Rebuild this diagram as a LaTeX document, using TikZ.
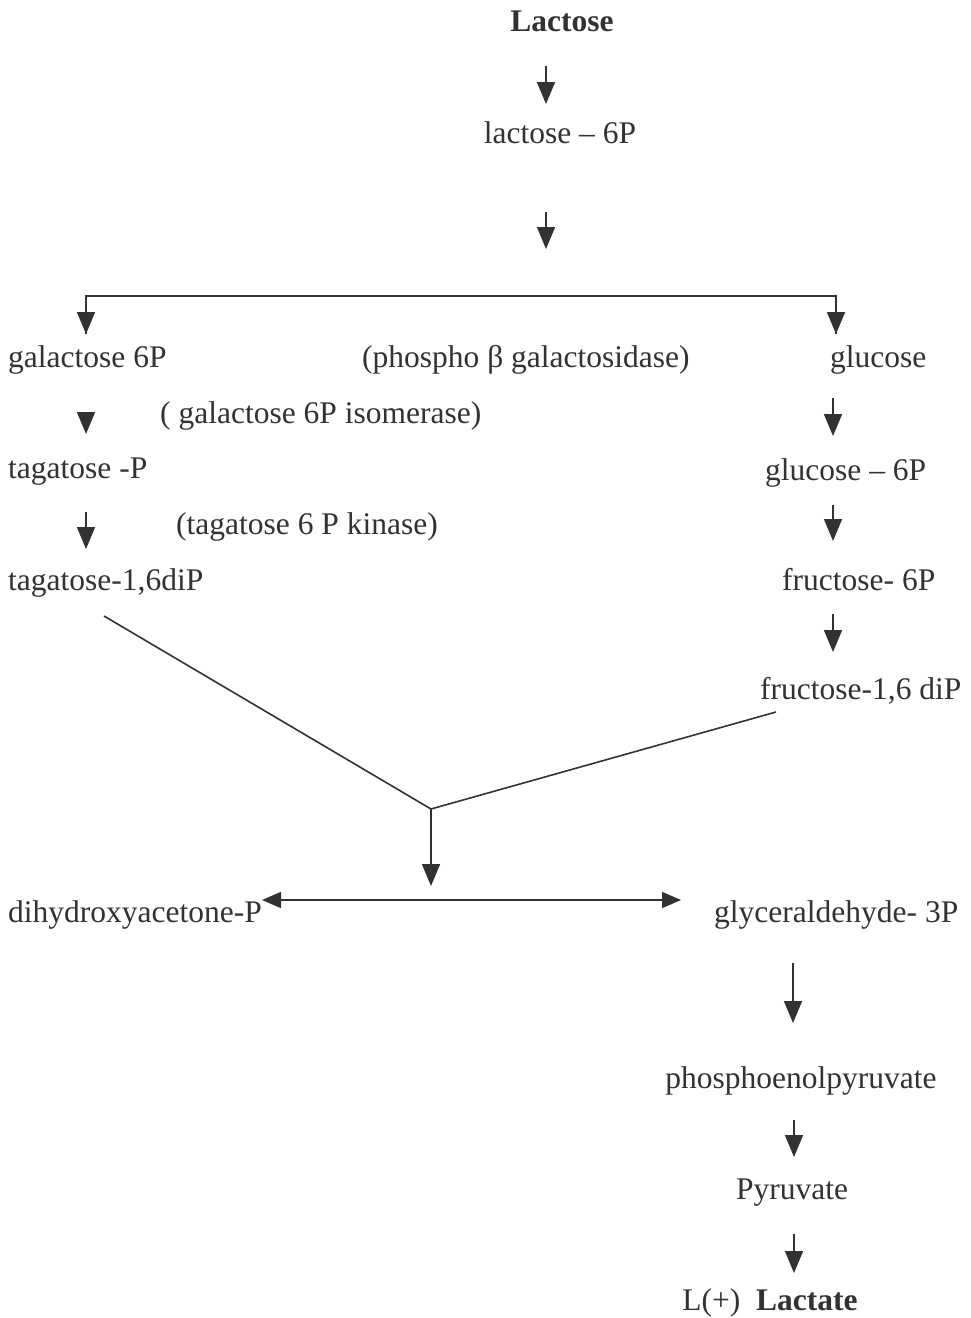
\documentclass[tikz,border=0pt]{standalone}
\usepackage{fontspec}
\setmainfont{Liberation Serif}
\usetikzlibrary{arrows.meta}
\definecolor{ink}{HTML}{323232}
\begin{document}
\begin{tikzpicture}[x=1pt,y=-1pt,
  lbl/.style={inner sep=0pt,text=ink,font=\fontsize{31.5}{34}\selectfont},
  arr/.style={draw=ink,line width=1.7pt,-{Triangle[width=18pt,length=22pt]}},
  twoway/.style={draw=ink,line width=1.7pt,{Triangle[width=16pt,length=19pt]}-{Triangle[width=16pt,length=19pt]}},
  plain/.style={draw=ink,line width=1.6pt}]
\useasboundingbox[fill=white] (0,0) rectangle (970,1318);

% metabolites
\node[lbl,anchor=base] (lac) at (562,31) {\bfseries Lactose};
\node[lbl,anchor=base] (lac6p) at (560,143) {lactose -- 6P};
\node[lbl,anchor=base west] (gal6p) at (8,367) {galactose 6P};
\node[lbl,anchor=base west] (glc) at (830,367) {glucose};
\node[lbl,anchor=base west] (tagp) at (8,478) {tagatose -P};
\node[lbl,anchor=base west] (glc6p) at (765,480) {glucose -- 6P};
\node[lbl,anchor=base west] (tagdip) at (8,590) {tagatose-1,6diP};
\node[lbl,anchor=base west] (fru6p) at (782,590) {fructose- 6P};
\node[lbl,anchor=base west] (frudip) at (760,699) {fructose-1,6 diP};
\node[lbl,anchor=base west] (dhap) at (8,922) {dihydroxyacetone-P};
\node[lbl,anchor=base west] (gap) at (714,922) {glyceraldehyde- 3P};
\node[lbl,anchor=base] (pep) at (801,1088) {phosphoenolpyruvate};
\node[lbl,anchor=base] (pyr) at (792,1199) {Pyruvate};
\node[lbl,anchor=base] (lact) at (770,1310) {L(+)\ \ \textbf{Lactate}};

% enzymes
\node[lbl,anchor=base west] (bgal) at (362,367) {(phospho β galactosidase)};
\node[lbl,anchor=base west] (iso) at (160,423) {( galactose 6P isomerase)};
\node[lbl,anchor=base west] (kin) at (176,534) {(tagatose 6 P kinase)};

% connector end points
\coordinate (a1s) at (546,66);   \coordinate (a1e) at (546,104);
\coordinate (a2s) at (546,212);  \coordinate (a2e) at (546,249);
\coordinate (brL) at (86,296);   \coordinate (brR) at (836,296);
\coordinate (brLe) at (86,334);  \coordinate (brRe) at (836,334);
\coordinate (l1s) at (86,412);   \coordinate (l1e) at (86,434);
\coordinate (l2s) at (86,512);   \coordinate (l2e) at (86,549);
\coordinate (r1s) at (833,398);  \coordinate (r1e) at (833,436);
\coordinate (r2s) at (833,505);  \coordinate (r2e) at (833,541);
\coordinate (r3s) at (833,614);  \coordinate (r3e) at (833,652);
\coordinate (vL) at (104,616);   \coordinate (vR) at (776,712);
\coordinate (vJ) at (431,809);   \coordinate (vE) at (431,886);
\coordinate (hL) at (262,900);   \coordinate (hR) at (681,900);
\coordinate (g1s) at (793,963);  \coordinate (g1e) at (793,1023);
\coordinate (g2s) at (794,1120); \coordinate (g2e) at (794,1157);
\coordinate (g3s) at (794,1234); \coordinate (g3e) at (794,1273);

% lactose uptake and splitting
\draw[arr] (a1s) -- (a1e);
\draw[arr] (a2s) -- (a2e);
\draw[plain] (brLe) -- (brL) -- (brR) -- (brRe);
\draw[arr] (brL) -- (brLe);
\draw[arr] (brR) -- (brRe);

% tagatose branch
\draw[arr] (l1s) -- (l1e);
\draw[arr] (l2s) -- (l2e);

% glucose branch
\draw[arr] (r1s) -- (r1e);
\draw[arr] (r2s) -- (r2e);
\draw[arr] (r3s) -- (r3e);

% aldolase cleavage into triose phosphates
\draw[plain] (vL) -- (vJ) -- (vR);
\draw[arr] (vJ) -- (vE);
\draw[twoway] (hL) -- (hR);

% lower glycolysis
\draw[arr] (g1s) -- (g1e);
\draw[arr] (g2s) -- (g2e);
\draw[arr] (g3s) -- (g3e);
\end{tikzpicture}
\end{document}
